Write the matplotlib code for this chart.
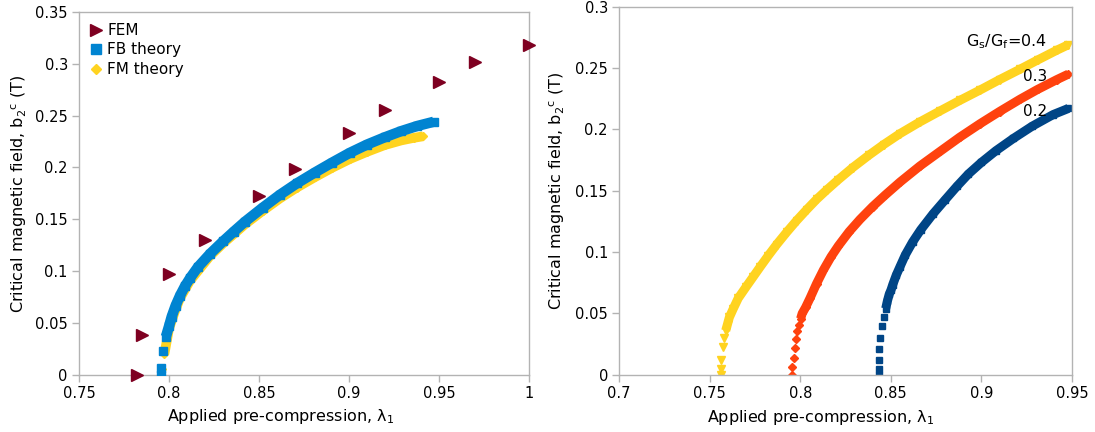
import matplotlib
matplotlib.use('Agg')
import matplotlib.pyplot as plt
from matplotlib.ticker import FuncFormatter

plt.rcParams['font.family'] = ['DejaVu Sans']
plt.rcParams['mathtext.fontset'] = 'dejavusans'

# ---- left panel data ----
fem_x = [0.782, 0.785, 0.800, 0.820, 0.850, 0.870, 0.900, 0.920, 0.950, 0.970, 1.000]
fem_y = [0.000, 0.038, 0.097, 0.130, 0.172, 0.198, 0.2335, 0.2557, 0.2827, 0.302, 0.318]

fb_x = [0.7956, 0.7958, 0.7968, 0.7983, 0.8000, 0.8015, 0.8037, 0.8061, 0.8088, 0.8117,
        0.8160, 0.8228, 0.8300, 0.8360, 0.8422, 0.8520, 0.8616, 0.8710, 0.8810, 0.8905,
        0.9004, 0.9100, 0.9198, 0.9290, 0.9380, 0.9470]
fb_y = [0.0000, 0.0060, 0.0227, 0.0365, 0.0465, 0.0558, 0.0665, 0.0760, 0.0850, 0.0930,
        0.1035, 0.1165, 0.1285, 0.1380, 0.1475, 0.1610, 0.1735, 0.1845, 0.1950, 0.2045,
        0.2140, 0.2220, 0.2290, 0.2350, 0.2400, 0.2440]

fm_x = [0.7956, 0.7960, 0.7975, 0.8000, 0.8030, 0.8061, 0.8117, 0.8228, 0.8300, 0.8422,
        0.8520, 0.8616, 0.8710, 0.8810, 0.8905, 0.9004, 0.9100, 0.9198, 0.9290, 0.9360,
        0.9412]
fm_y = [0.0000, 0.0050, 0.0200, 0.0440, 0.0595, 0.0735, 0.0905, 0.1145, 0.1265, 0.1450,
        0.1580, 0.1700, 0.1805, 0.1905, 0.1995, 0.2080, 0.2150, 0.2215, 0.2260, 0.2285,
        0.2300]

# ---- right panel data, Gs/Gf = 0.4, 0.3, 0.2 ----
g4_x = [0.7562, 0.7562, 0.7562, 0.7572, 0.7579, 0.7589, 0.7599, 0.7609, 0.7630, 0.7658,
        0.7700, 0.7741, 0.7780, 0.7824, 0.7870, 0.7925, 0.7980, 0.8036, 0.8090, 0.8146,
        0.8211, 0.8290, 0.8380, 0.8460, 0.8551, 0.8660, 0.8772, 0.8880, 0.8992, 0.9100,
        0.9213, 0.9310, 0.9416, 0.9480]
g4_y = [0.0000, 0.0046, 0.0122, 0.0222, 0.0298, 0.0358, 0.0412, 0.0466, 0.0535, 0.0622,
        0.0712, 0.0798, 0.0880, 0.0970, 0.1060, 0.1160, 0.1255, 0.1345, 0.1428, 0.1505,
        0.1590, 0.1688, 0.1790, 0.1875, 0.1965, 0.2060, 0.2150, 0.2235, 0.2320, 0.2405,
        0.2490, 0.2565, 0.2645, 0.2690]

g3_x = [0.7956, 0.7956, 0.7964, 0.7970, 0.7976, 0.7985, 0.7993, 0.8002, 0.8011, 0.8030,
        0.8054, 0.8090, 0.8128, 0.8170, 0.8211, 0.8270, 0.8330, 0.8400, 0.8470, 0.8551,
        0.8660, 0.8772, 0.8880, 0.8992, 0.9100, 0.9213, 0.9310, 0.9416, 0.9480]
g3_y = [0.0000, 0.0065, 0.0137, 0.0215, 0.0293, 0.0358, 0.0407, 0.0454, 0.0498, 0.0548,
        0.0622, 0.0740, 0.0852, 0.0960, 0.1050, 0.1165, 0.1265, 0.1370, 0.1465, 0.1570,
        0.1700, 0.1820, 0.1935, 0.2045, 0.2145, 0.2245, 0.2325, 0.2405, 0.2450]

g2_x = [0.8433, 0.8433, 0.8435, 0.8437, 0.8441, 0.8452, 0.8463, 0.8472, 0.8481, 0.8491,
        0.8502, 0.8511, 0.8530, 0.8551, 0.8580, 0.8620, 0.8665, 0.8733, 0.8800, 0.8865,
        0.8928, 0.9000, 0.9080, 0.9176, 0.9280, 0.9396, 0.9480]
g2_y = [0.0000, 0.0041, 0.0122, 0.0209, 0.0299, 0.0392, 0.0470, 0.0538, 0.0598, 0.0653,
        0.0693, 0.0734, 0.0810, 0.0880, 0.0975, 0.1080, 0.1180, 0.1310, 0.1425, 0.1535,
        0.1635, 0.1730, 0.1825, 0.1925, 0.2025, 0.2120, 0.2170]

left_xticks = [0.75, 0.8, 0.85, 0.9, 0.95, 1.0]
left_yticks = [0, 0.05, 0.1, 0.15, 0.2, 0.25, 0.3, 0.35]
right_xticks = [0.7, 0.75, 0.8, 0.85, 0.9, 0.95]
right_yticks = [0, 0.05, 0.1, 0.15, 0.2, 0.25, 0.3]

xlabel = 'Applied pre-compression, λ$_1$'
ylabel = 'Critical magnetic field, b$_2$$^\\mathrm{c}$ (T)'

GRAY = '#b3b3b3'
FS = 10.5
LFS = 11.5

fig = plt.figure(figsize=(10.95, 4.32), dpi=100)
ax1 = fig.add_axes([0.0721, 0.1331, 0.4110, 0.8391])
ax2 = fig.add_axes([0.5653, 0.1331, 0.4137, 0.8514])

fmt = FuncFormatter(lambda v, p: '%g' % round(v, 3))


def style(ax, xt, yt):
    for s in ax.spines.values():
        s.set_color(GRAY)
        s.set_linewidth(1.0)
    ax.set_xticks(xt)
    ax.set_yticks(yt)
    ax.set_xlim(xt[0], xt[-1])
    ax.set_ylim(yt[0], yt[-1])
    ax.xaxis.set_major_formatter(fmt)
    ax.yaxis.set_major_formatter(fmt)
    ax.tick_params(direction='out', length=5, width=1, color=GRAY,
                   labelsize=FS, pad=3)
    ax.set_xlabel(xlabel, fontsize=LFS)
    ax.set_ylabel(ylabel, fontsize=LFS)
    ax.xaxis.label.set_va('center')
    ax.yaxis.label.set_va('center')


# left panel
ax1.plot(fm_x[2:], fm_y[2:], color='#ffd320', lw=7, solid_capstyle='butt', zorder=2)
ax1.plot(fm_x, fm_y, 'D', color='#ffd320', ms=4.5, ls='none', zorder=2)
ax1.plot(fb_x[3:], fb_y[3:], color='#0084d1', lw=7.5, solid_capstyle='butt', zorder=3)
ax1.plot(fb_x, fb_y, 's', color='#0084d1', ms=6, ls='none', zorder=3)
ax1.plot(fem_x, fem_y, '>', color='#7e0021', ms=8, ls='none', zorder=4, clip_on=False)

h_fem, = ax1.plot([], [], '>', color='#7e0021', ms=8, ls='none')
h_fb, = ax1.plot([], [], 's', color='#0084d1', ms=6.5, ls='none')
h_fm, = ax1.plot([], [], 'D', color='#ffd320', ms=5, ls='none')
ax1.legend([h_fem, h_fb, h_fm], ['FEM', 'FB theory', 'FM theory'], loc='upper left',
           bbox_to_anchor=(0.022, 0.97), frameon=False, fontsize=FS + 0.5,
           borderpad=0, borderaxespad=0, handlelength=1, handletextpad=0.2,
           labelspacing=0.3)
style(ax1, left_xticks, left_yticks)
ax1.xaxis.set_label_coords(0.449, -0.117)
ax1.yaxis.set_label_coords(-0.133, 0.5)

# right panel
ax2.plot(g4_x[5:], g4_y[5:], color='#ffd320', lw=6.5, solid_capstyle='butt')
ax2.plot(g4_x, g4_y, 'v', color='#ffd320', ms=5.5, ls='none')
ax2.plot(g3_x[7:], g3_y[7:], color='#ff420e', lw=6.5, solid_capstyle='butt')
ax2.plot(g3_x, g3_y, 'D', color='#ff420e', ms=4, ls='none')
ax2.plot(g2_x[7:], g2_y[7:], color='#004586', lw=6.5, solid_capstyle='butt')
ax2.plot(g2_x, g2_y, 's', color='#004586', ms=5, ls='none')

ax2.text(0.9362, 0.2715, 'G$_\\mathrm{s}$/G$_\\mathrm{f}$=0.4', fontsize=LFS,
         ha='right', va='center', zorder=5)
ax2.text(0.9362, 0.2429, '0.3', fontsize=11, ha='right', va='center', zorder=5)
ax2.text(0.9362, 0.2144, '0.2', fontsize=11, ha='right', va='center', zorder=5)
style(ax2, right_xticks, right_yticks)
ax2.xaxis.set_label_coords(0.446, -0.1156)
ax2.yaxis.set_label_coords(-0.137, 0.5)

fig.savefig('out.png', dpi=100)
